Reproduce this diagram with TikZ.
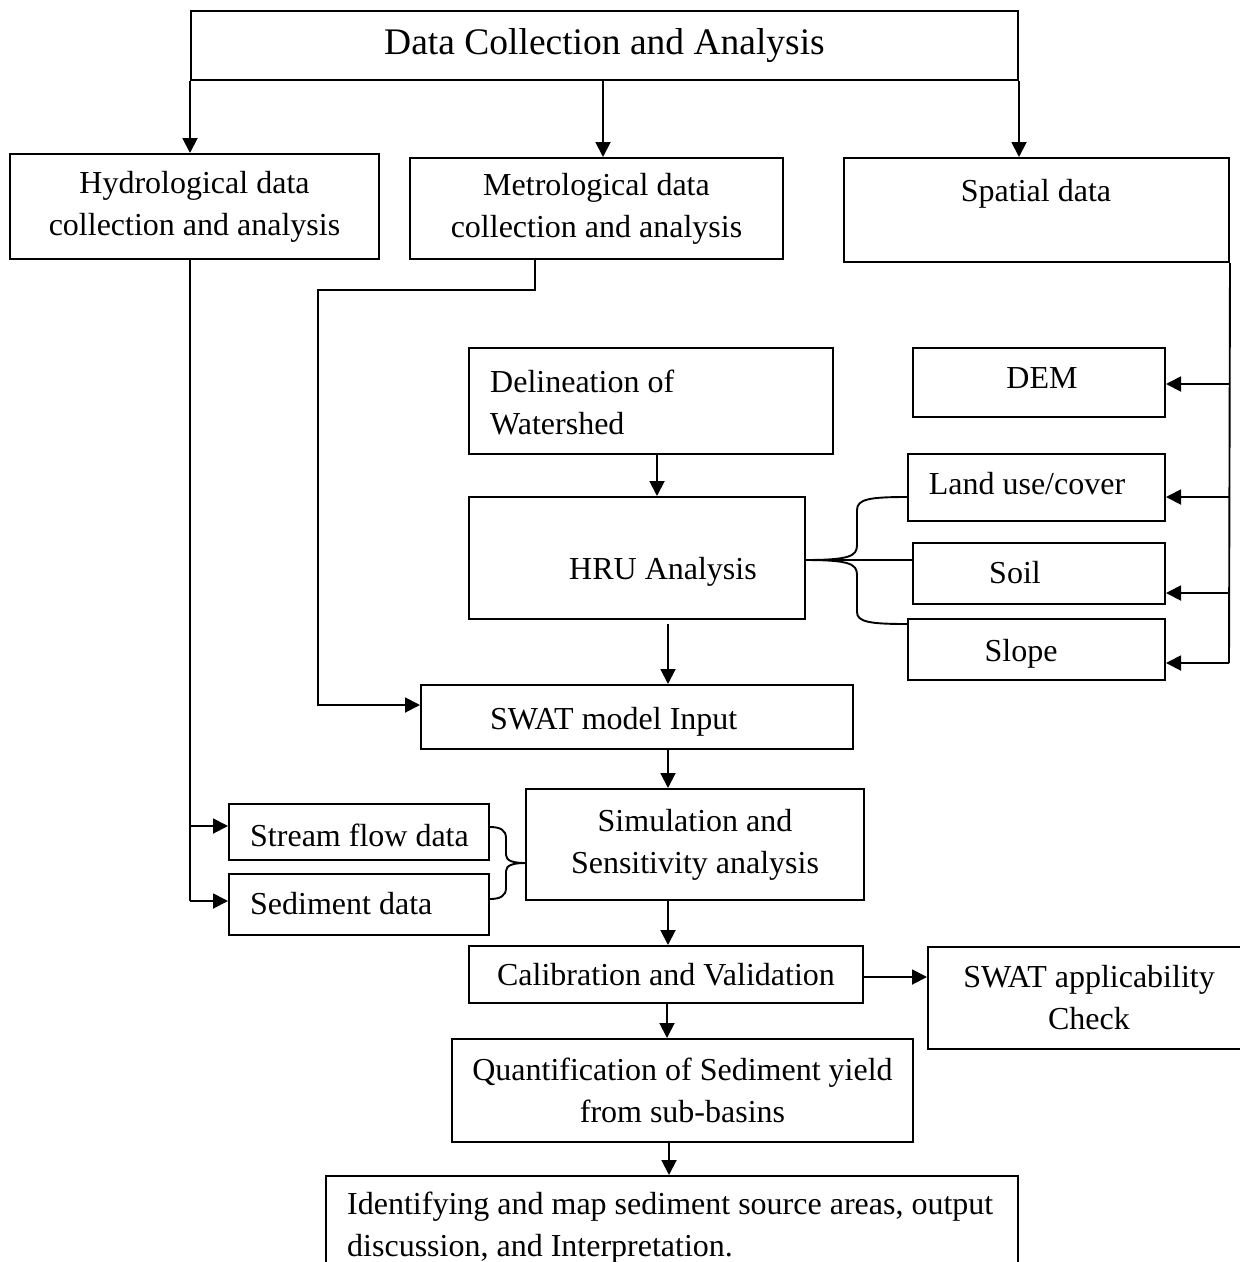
\documentclass[tikz,border=0pt]{standalone}
\usepackage{fontspec}
\setmainfont{Liberation Serif}
\usetikzlibrary{arrows.meta}
\begin{document}
\begin{tikzpicture}[x=1pt,y=-1pt,
  box/.style={draw, line width=2pt, inner sep=0pt, align=center},
  txt/.style={inner sep=0pt, align=left},
  conn/.style={line width=1.9pt},
  arr/.style={conn,-{Triangle[length=15pt,width=15pt]}},
  font=\fontsize{32}{42}\selectfont]
\useasboundingbox (0,0) rectangle (1240,1262);
\clip (0,0) rectangle (1240,1262);

% boxes
\node[box,minimum width=827pt,minimum height=69pt,font=\fontsize{37.5}{44}\selectfont] (title) at (604.5,45.5) {Data Collection and Analysis};
\node[box,minimum width=369pt,minimum height=105pt] (hydro) at (194.5,206.5) {Hydrological data\\collection and analysis};
\node[box,minimum width=373pt,minimum height=101pt] (metro) at (596.5,208.5) {Metrological data\\collection and analysis};
\node[box,minimum width=385pt,minimum height=104pt] (spatial) at (1036.5,210) {};
\node[box,minimum width=364pt,minimum height=106pt] (delin) at (651,401) {};
\node[box,minimum width=336pt,minimum height=122pt] (hru) at (637,558) {};
\node[box,minimum width=252pt,minimum height=69pt] (dem) at (1039,382.5) {};
\node[box,minimum width=257pt,minimum height=67pt] (land) at (1036.5,487.5) {};
\node[box,minimum width=252pt,minimum height=61pt] (soil) at (1039,573.5) {};
\node[box,minimum width=257pt,minimum height=61pt] (slope) at (1036.5,649.5) {};
\node[box,minimum width=432pt,minimum height=64pt] (swat) at (637,717) {};
\node[box,minimum width=338pt,minimum height=111pt] (sim) at (695,844.5) {Simulation and\\Sensitivity analysis};
\node[box,minimum width=260pt,minimum height=56pt] (stream) at (359,832) {};
\node[box,minimum width=260pt,minimum height=61pt] (sed) at (359,904.5) {};
\node[box,minimum width=394pt,minimum height=57pt] (calib) at (666,974.5) {Calibration and Validation};
\node[box,minimum width=322pt,minimum height=102pt] (applic) at (1089,998) {SWAT applicability\\Check};
\node[box,minimum width=461pt,minimum height=103pt] (quant) at (682.5,1090.5) {Quantification of Sediment yield\\from sub-basins};
\node[box,minimum width=692pt,minimum height=104pt] (ident) at (672,1228) {};

% offset texts
\node[txt,anchor=base] (spatialt) at (1036,201) {Spatial data};
\node[txt,anchor=west] (delint) at (490,402.5) {Delineation of\\Watershed};
\node[txt,anchor=base] (hrut) at (663,579) {HRU Analysis};
\node[txt,anchor=base west] (swatt) at (490,729) {SWAT model Input};
\node[txt,anchor=base] (demt) at (1042,388) {DEM};
\node[txt,anchor=base] (landt) at (1027,494) {Land use/cover};
\node[txt,anchor=base] (soilt) at (1015,583) {Soil};
\node[txt,anchor=base] (slopet) at (1021,661) {Slope};
\node[txt,anchor=base west] (streamt) at (250,846) {Stream flow data};
\node[txt,anchor=base west] (sedt) at (250,914) {Sediment data};
\node[txt,anchor=west] (identt) at (347,1228) {Identifying and map sediment source areas, output\\discussion, and Interpretation.};

% top arrows
\draw[arr] (title.south west) -- (title.south west |- hydro.north);
\draw[arr] ([xshift=-1.5pt]title.south) -- ([xshift=-1.5pt]title.south |- metro.north);
\draw[arr] (title.south east) -- (title.south east |- spatial.north);

% hydrological branch
\coordinate (h1) at (190,826);
\coordinate (h2) at (190,901);
\draw[conn] (hydro.south -| h1) -- (h2);
\draw[arr] (h1) -- (h1 -| stream.west);
\draw[arr] (h2) -- (h2 -| sed.west);

% metrological branch
\coordinate (m1) at (535,290);
\coordinate (m2) at (318,705);
\draw[arr] (metro.south -| m1) -- (m1) -- (m1 -| m2) -- (m2) -- (m2 -| swat.west);

% central chain
\draw[arr] ([xshift=6pt]delin.south) -- ([xshift=6pt]delin.south |- hru.north);
\draw[arr] ([xshift=31pt,yshift=-4pt]hru.south) -- ([xshift=31pt]hru.south |- swat.north);
\draw[arr] ([xshift=31pt]swat.south) -- ([xshift=31pt]swat.south |- sim.north);
\draw[arr] ([xshift=-27pt]sim.south) -- ([xshift=-27pt]sim.south |- calib.north);
\draw[arr] ([xshift=1pt]calib.south) -- ([xshift=1pt]calib.south |- quant.north);
\draw[arr] ([xshift=-13.5pt]quant.south) -- ([xshift=-13.5pt]quant.south |- ident.north);
\draw[arr] ([yshift=-2.5pt]calib.east) -- ([yshift=-2.5pt]calib.east -| applic.west);

% spatial branch
\coordinate (s1) at (1229,663);
\draw[conn] (spatial.south east) -- (s1);
\draw[arr] ([yshift=-1.5pt]dem.east -| s1) -- ([yshift=-1.5pt]dem.east);
\draw[arr] ([yshift=-9.5pt]land.east -| s1) -- ([yshift=-9.5pt]land.east);
\draw[arr] ([yshift=-19.5pt]soil.east -| s1) -- ([yshift=-19.5pt]soil.east);
\draw[arr] ([yshift=-13.5pt]slope.east -| s1) -- ([yshift=-13.5pt]slope.east);

% HRU brace
\coordinate (b0) at (805,560);
\draw[conn] (b0) .. controls (850,560) and (857,556) .. (857,545) -- (857,510) .. controls (857,499) and (870,497) .. (land.west |- 0,497);
\draw[conn] (b0) -- (soil.west |- b0);
\draw[conn] (b0) .. controls (850,560) and (857,564) .. (857,575) -- (857,612) .. controls (857,622) and (870,624) .. (slope.west |- 0,624);

% stream/sediment brace
\draw[conn] (stream.east |- 0,827) .. controls (500,827) and (506,830) .. (506,838) -- (506,855) .. controls (506,861) and (514,863) .. (sim.west |- 0,863);
\draw[conn] (sed.east |- 0,899) .. controls (500,899) and (506,896) .. (506,888) -- (506,871) .. controls (506,865) and (514,863) .. (sim.west |- 0,863);
\end{tikzpicture}
\end{document}
